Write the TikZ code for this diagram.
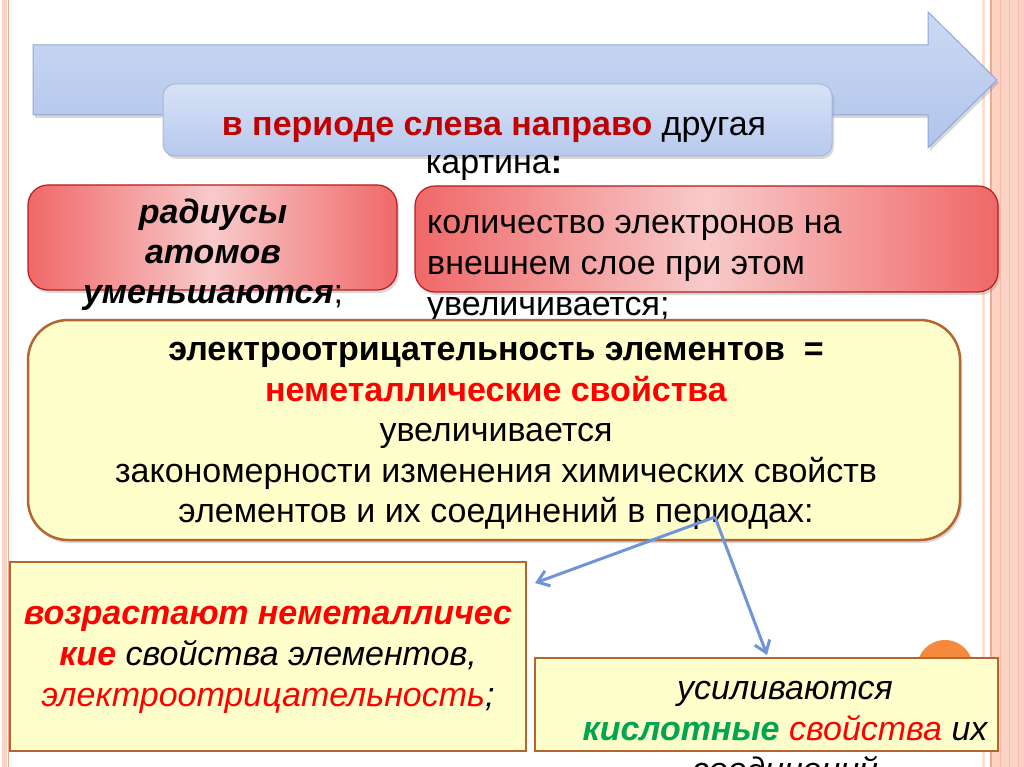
\documentclass[tikz,border=0pt]{standalone}
\usepackage{fontspec}
\setmainfont{Liberation Sans}
\usetikzlibrary{arrows.meta,shadows}
\definecolor{arrowtop}{HTML}{CCD9F3}
\definecolor{arrowbot}{HTML}{B0C4EB}
\definecolor{arrowedge}{HTML}{8FA8D8}
\definecolor{boxblue1}{HTML}{D8E2F6}
\definecolor{boxblue2}{HTML}{B6C9EE}
\definecolor{boxblueedge}{HTML}{A8B8D8}
\definecolor{redside}{HTML}{F06868}
\definecolor{redmid}{HTML}{F8CACA}
\definecolor{rededge}{HTML}{B81C1C}
\definecolor{pale}{HTML}{FFFFCC}
\definecolor{brownedge}{HTML}{B5652D}
\definecolor{darkred}{HTML}{C00000}
\definecolor{brightred}{HTML}{FF0000}
\definecolor{greentx}{HTML}{00A550}
\definecolor{connblue}{HTML}{7094D6}
\definecolor{orangedot}{HTML}{F58A3C}
\definecolor{stripe}{HTML}{FBD3C4}
\definecolor{stripedark}{HTML}{F2A88E}
\tikzset{
  softshadow/.style={drop shadow={shadow xshift=2pt, shadow yshift=-3pt, opacity=0.3}},
  bluebox/.style={draw=boxblueedge, line width=1pt, rounded corners=12pt, top color=boxblue1, bottom color=boxblue2, softshadow},
  redbox/.style={draw=rededge, line width=1.2pt, rounded corners=20pt, left color=redside, right color=redside, middle color=redmid, softshadow},
  yellowbox/.style={draw=brownedge, line width=2.5pt, rounded corners=40pt, fill=pale, softshadow},
  squarebox/.style={draw=brownedge, line width=2.5pt, fill=pale},
  txt/.style={inner sep=0pt, align=center, text=black},
  conn/.style={draw=connblue, line width=3pt, -{Straight Barb[length=11pt,width=16pt,line width=3pt]}},
}
\begin{document}
\begin{tikzpicture}[x=1pt,y=-1pt]
\clip (0,0) rectangle (1024,767);
\fill[white] (0,0) rectangle (1024,767);
% page border stripes
\fill[stripe] (2,0) rectangle (7,767);
\draw[stripedark, line width=0.8pt] (8.5,0) -- (8.5,767);
\fill[stripe!70!white] (982,0) rectangle (985,767);
\fill[stripe] (990,0) rectangle (1024,767);
\draw[stripedark, line width=1.5pt] (991,0) -- (991,767);
\draw[stripedark!60!stripe, line width=1pt] (1000,0) -- (1000,767);
\draw[stripedark!50!stripe, line width=1pt] (1009,0) -- (1009,767);
\draw[stripedark!50!stripe, line width=1pt] (1018,0) -- (1018,767);
% big arrow
\path[draw=arrowedge, line width=1pt, top color=arrowtop, bottom color=arrowbot, softshadow]
  (33,45) -- (928,45) -- (928,12) -- (997,80) -- (928,148) -- (928,115) -- (33,115) -- cycle;
% blue label box
\node[bluebox, minimum width=669pt, minimum height=72pt] (head) at (497.5,120) {};
\node[txt, font=\fontsize{34}{38}\selectfont] (headtxt) at (494,149)
  {\textcolor{darkred}{\bfseries в периоде слева направо} другая\\картина\textbf{:}};
% red boxes
\node[redbox, minimum width=369pt, minimum height=105pt] (radii) at (212.5,237.5) {};
\node[txt, font=\fontsize{34}{40}\selectfont] (radiitxt) at (213,255)
  {\textbf{\itshape радиусы}\\\textbf{\itshape атомов}\\\textbf{\itshape уменьшаются};};
\node[redbox, minimum width=583pt, minimum height=106pt] (elec) at (706.5,239) {};
\node[txt, align=left, anchor=west, font=\fontsize{34}{41}\selectfont] (electxt) at (427,269)
  {количество электронов на\\внешнем слое при этом\\увеличивается;};
% yellow box
\node[yellowbox, minimum width=932pt, minimum height=220pt] (eneg) at (494,430) {};
\node[txt, font=\fontsize{34}{40.5}\selectfont] (enegtxt) at (496,436)
  {\textbf{электроотрицательность элементов\ \ =}\\
   \textcolor{brightred}{\bfseries неметаллические свойства}\\
   увеличивается\\
   закономерности изменения химических свойств\\
   элементов и их соединений в периодах:};
% orange dot
\fill[orangedot] (945,668) circle[radius=28];
% lower boxes
\node[squarebox, minimum width=516pt, minimum height=189pt] (nonmet) at (268,656.5) {};
\node[txt, font=\itshape\fontsize{34}{41}\selectfont] (nonmettxt) at (268,660)
  {\textcolor{brightred}{\bfseries возрастают неметалличес}\\
   \textcolor{brightred}{\bfseries кие} свойства элементов,\\
   \textcolor{brightred}{электроотрицательность};};
\node[squarebox, minimum width=463pt, minimum height=93pt] (acid) at (766.5,704.5) {};
\node[txt, font=\itshape\fontsize{34}{41}\selectfont] (acidtxt) at (785,732)
  {усиливаются\\
   \textcolor{greentx}{\bfseries кислотные} \textcolor{brightred}{свойства} их\\
   соединений};
% connectors
\coordinate (src) at (715,517);
\coordinate (toNonmet) at (535,583);
\coordinate (toAcid) at (767,655);
\draw[conn] (src) -- (toNonmet);
\draw[conn] (src) -- (toAcid);
\end{tikzpicture}
\end{document}
